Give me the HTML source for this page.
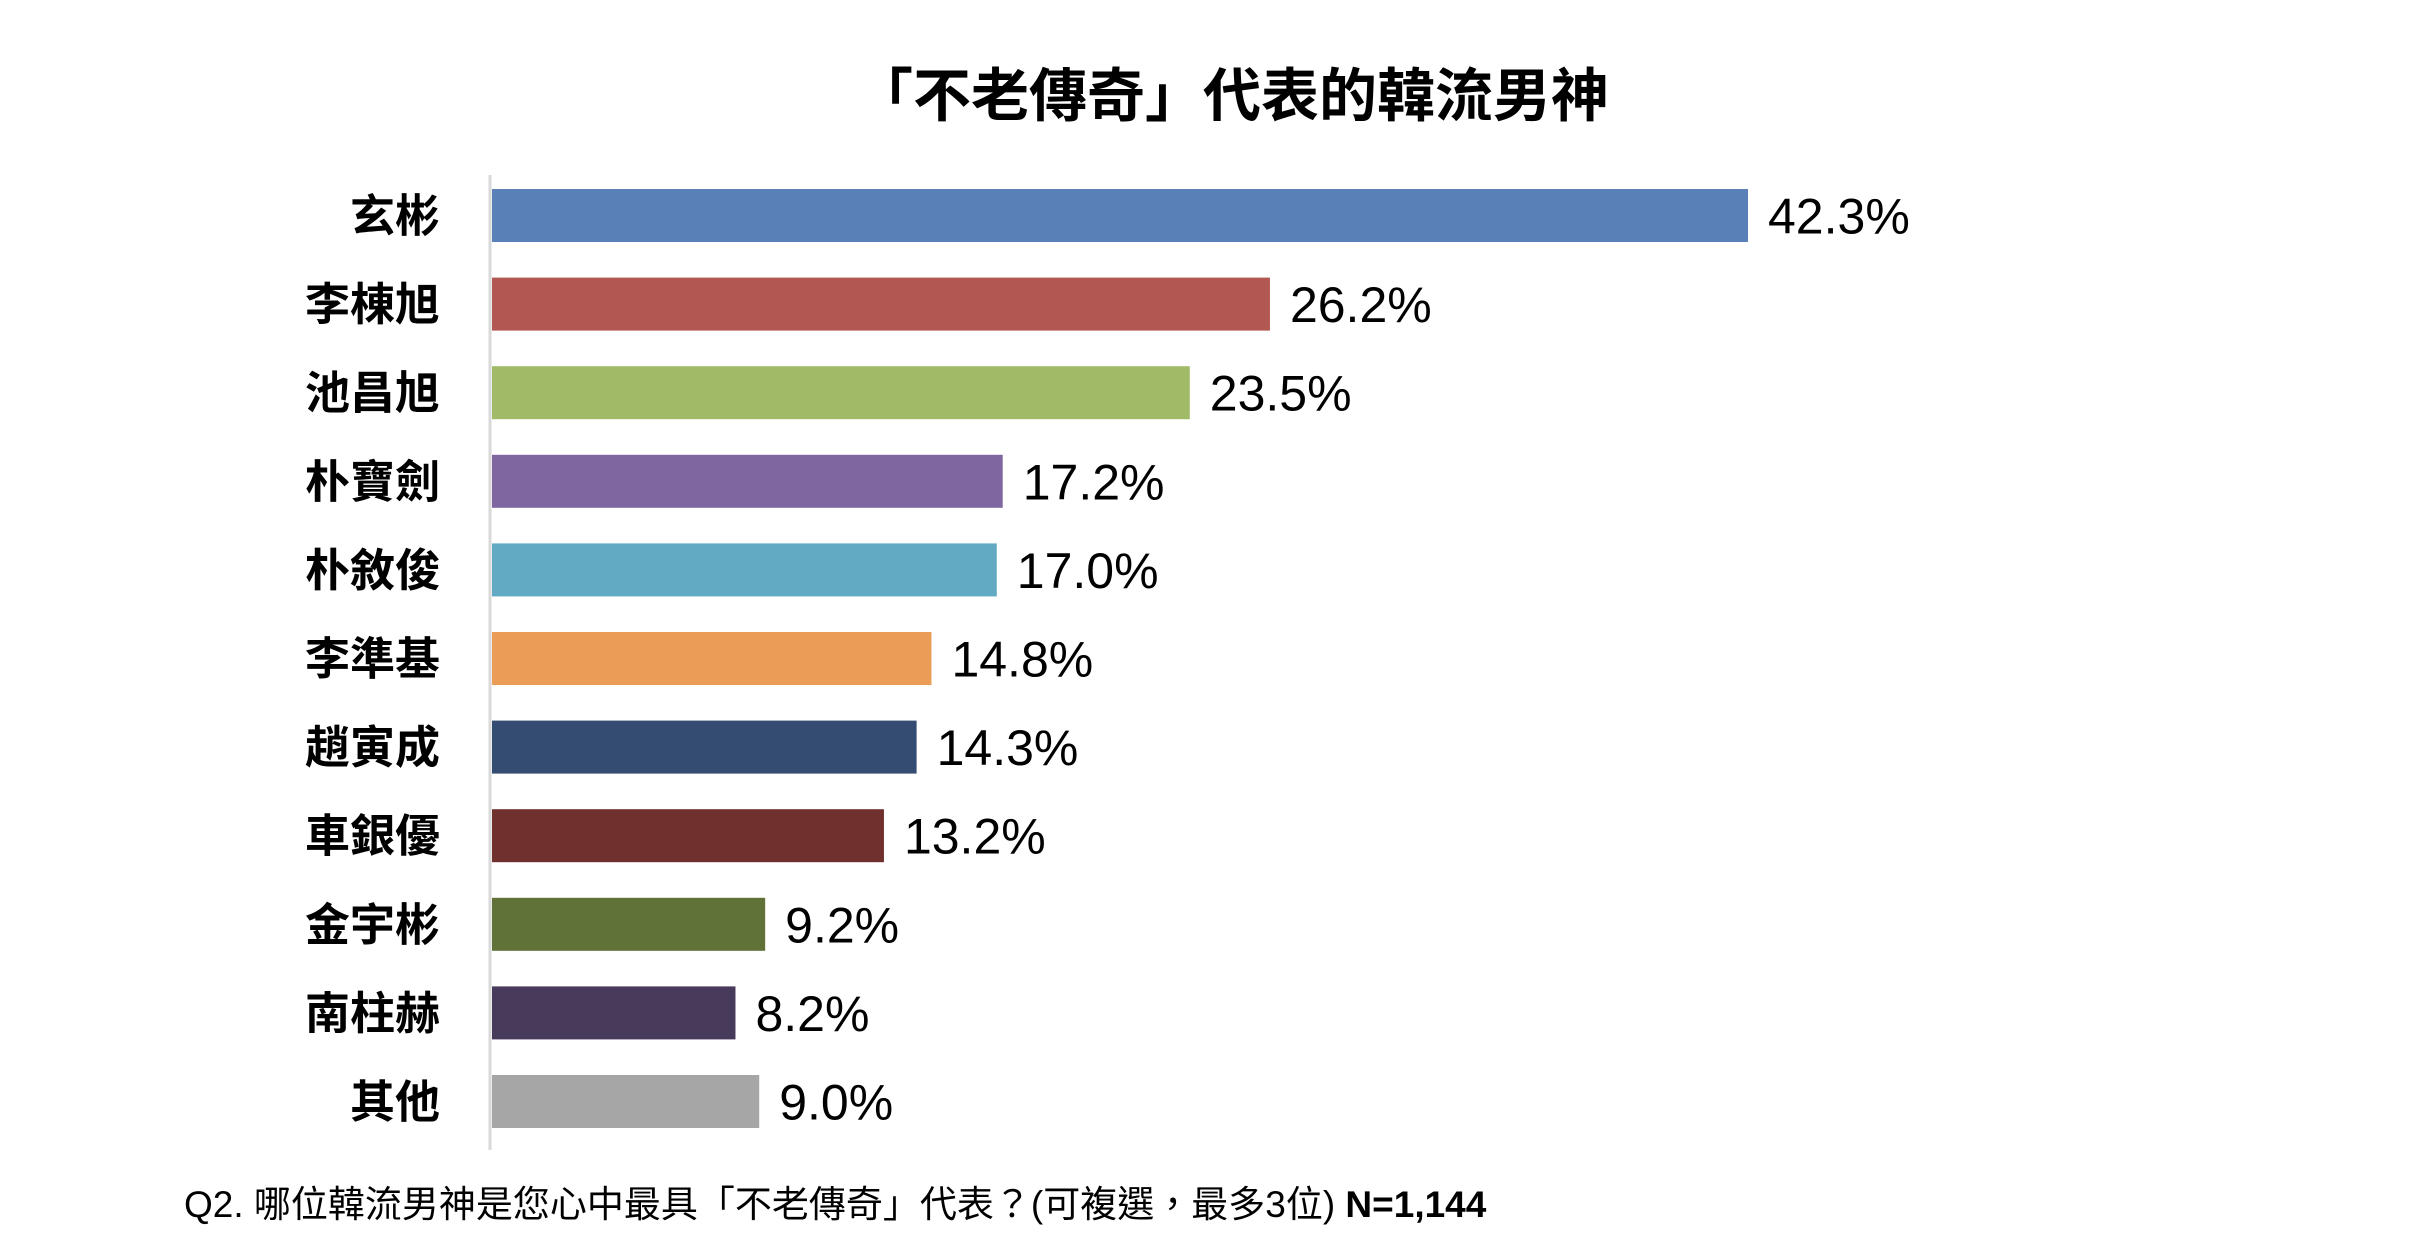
<!DOCTYPE html>
<html><head><meta charset="utf-8"><style>
html,body{margin:0;padding:0;background:#fff;}
svg{display:block;}
</style></head><body>
<svg width="2414" height="1260" viewBox="0 0 2414 1260">
<text x="1232" y="116" text-anchor="middle" font-family="'Liberation Sans','Noto Sans CJK TC',sans-serif" font-weight="bold" font-size="58" fill="#000">「不老傳奇」代表的韓流男神</text>
<line x1="490" y1="175" x2="490" y2="1150" stroke="#d9d9d9" stroke-width="3"/>
<g id="bars"></g>
<text x="184" y="1217" font-family="'Liberation Sans','Noto Sans CJK TC',sans-serif" font-size="37" fill="#000">Q2. 哪位韓流男神是您心中最具「不老傳奇」代表？(可複選，最多3位)  <tspan font-weight="bold">N=1,144</tspan></text>
</svg>
<script>
const categories = ["玄彬","李棟旭","池昌旭","朴寶劍","朴敘俊","李準基","趙寅成","車銀優","金宇彬","南柱赫","其他"];
const values = [42.3,26.2,23.5,17.2,17.0,14.8,14.3,13.2,9.2,8.2,9.0];
const valueLabels = ["42.3%","26.2%","23.5%","17.2%","17.0%","14.8%","14.3%","13.2%","9.2%","8.2%","9.0%"];
const colors = ["#5a80b8","#b35752","#a1ba67","#7f66a0","#62a9c3","#eb9c57","#344c72","#6f302e","#617238","#483a5b","#a6a6a6"];
const NS = "http://www.w3.org/2000/svg";
const x0 = 492, pxPer = (1748 - 492) / 42.3;
const y0 = 189, pitch = 88.6, barH = 53;
function xScale(v){ return x0 + v * pxPer; }
function yScale(i){ return y0 + i * pitch; }
const g = document.getElementById('bars');
categories.forEach((c, i) => {
  const r = document.createElementNS(NS, 'rect');
  
  
  r.setAttribute('x', x0);
  r.setAttribute('y', yScale(i));
  r.setAttribute('width', xScale(values[i]) - x0);
  r.setAttribute('height', barH);
  r.setAttribute('fill', colors[i]);
  g.appendChild(r);
  const t = document.createElementNS(NS, 'text');
  
  
  t.setAttribute('x', 440);
  t.setAttribute('y', yScale(i) + barH / 2 + 16);
  t.setAttribute('text-anchor', 'end');
  t.setAttribute('font-family', "'Liberation Sans','Noto Sans CJK TC',sans-serif");
  t.setAttribute('font-weight', 'bold');
  t.setAttribute('font-size', '45');
  t.textContent = c;
  g.appendChild(t);
  const v = document.createElementNS(NS, 'text');
  
  
  v.setAttribute('x', xScale(values[i]) + 20);
  v.setAttribute('y', yScale(i) + barH / 2 + 18);
  v.setAttribute('font-family', "'Liberation Sans',sans-serif");
  v.setAttribute('font-size', '50');
  v.textContent = valueLabels[i];
  g.appendChild(v);
});
</script>
</body></html>
